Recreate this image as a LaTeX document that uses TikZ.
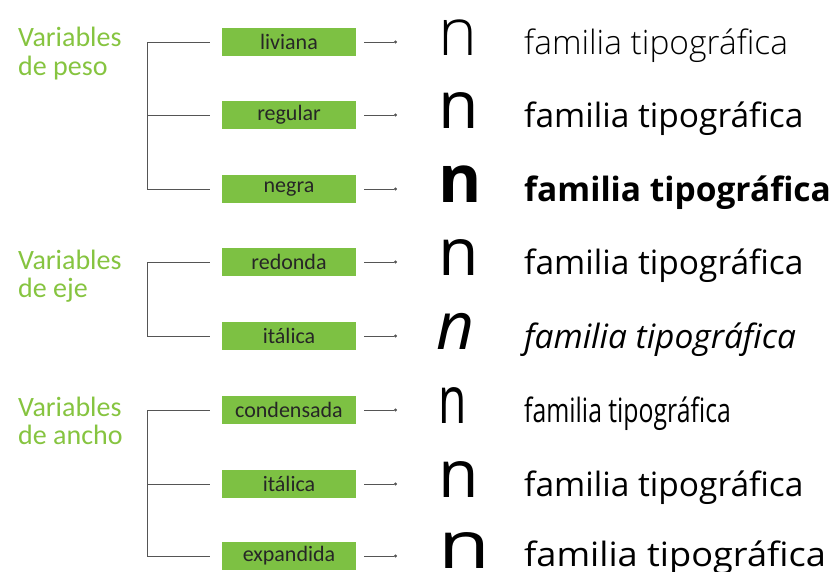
\documentclass[tikz,border=0pt]{standalone}
\usepackage{fontspec}
\setmainfont{Open Sans}
\newfontfamily\fLight{Open Sans Light}
\newfontfamily\fCal{Carlito}
\newfontfamily\fCond{Open Sans}[FakeStretch=0.74]
\newfontfamily\fExp{Open Sans}[FakeStretch=1.08]
\newfontfamily\fNCond{Open Sans}[FakeStretch=0.7]
\newfontfamily\fNExp{Open Sans}[FakeStretch=1.28]
\usetikzlibrary{arrows.meta}
\definecolor{boxgreen}{HTML}{7DC143}
\definecolor{titlegreen}{HTML}{86C440}
\definecolor{linegray}{HTML}{555555}
\tikzset{
  labelbox/.style={fill=boxgreen, minimum width=134pt, minimum height=28pt, inner sep=0pt,
    font=\fCal\fontsize{22}{22}\selectfont, text=black!85},
  grtitle/.style={anchor=base west, inner sep=0pt, text=titlegreen, font=\fCal\fontsize{28}{28}\selectfont},
  glyph/.style={anchor=base west, inner sep=0pt, font=\fontsize{66}{66}\selectfont},
  sample/.style={anchor=base west, inner sep=0pt, font=\fontsize{33.5}{33.5}\selectfont},
  conn/.style={draw=linegray, line width=0.9pt},
  arr/.style={conn, -{Circle[length=3pt]}}
}
\begin{document}
\begin{tikzpicture}[x=1pt,y=-1pt]
\useasboundingbox (0,0) rectangle (835,571);
% titles
\node[grtitle] (t1a) at (18,46) {Variables};
\node[grtitle] (t1b) at (18,75) {de peso};
\node[grtitle] (t2a) at (18,269) {Variables};
\node[grtitle] (t2b) at (18,297) {de eje};
\node[grtitle] (t3a) at (18,416) {Variables};
\node[grtitle] (t3b) at (18,444) {de ancho};
% boxes
\node[labelbox] (b1) at (289,42) {liviana};
\node[labelbox] (b2) at (289,115) {regular};
\node[labelbox] (b3) at (289,189) {negra};
\node[labelbox] (b4) at (289,262) {redonda};
\node[labelbox] (b5) at (289,336) {itálica};
\node[labelbox] (b6) at (289,410) {condensada};
\node[labelbox] (b7) at (289,484) {itálica};
\node[labelbox] (b8) at (289,556) {expandida};
% bracket corners
\coordinate (k1) at (147,42);
\coordinate (k3) at (147,189);
\coordinate (k4) at (147,262);
\coordinate (k5) at (147,336);
\coordinate (k6) at (147,410);
\coordinate (k8) at (147,556);
\draw[conn] ([xshift=-12pt]b1.west) -- (k1) -- (k3) -- ([xshift=-12pt]b3.west);
\draw[conn] ([xshift=-12pt]b2.west) -- ([xshift=-75pt]b2.west);
\draw[conn] ([xshift=-12pt]b4.west) -- (k4) -- (k5) -- ([xshift=-12pt]b5.west);
\draw[conn] ([xshift=-12pt]b6.west) -- (k6) -- (k8) -- ([xshift=-12pt]b8.west);
\draw[conn] ([xshift=-12pt]b7.west) -- ([xshift=-75pt]b7.west);
% arrows
\foreach \i/\y in {1/42,2/115,3/189,4/262,5/336,6/410,7/484,8/556}{
  \coordinate (e\i) at (397,\y);
  \draw[arr] ([xshift=8pt]b\i.east) -- (e\i);
}
% glyphs
\node[glyph, font=\fLight\fontsize{66}{66}\selectfont] (g1) at (438,55) {n};
\node[glyph] (g2) at (438,128) {n};
\node[glyph, font=\bfseries\fontsize{66}{66}\selectfont] (g3) at (438,202) {n};
\node[glyph] (g4) at (438,275) {n};
\node[glyph, font=\itshape\fontsize{66}{66}\selectfont] (g5) at (436,349) {n};
\node[glyph, font=\fNCond\fontsize{66}{66}\selectfont] (g6) at (438,423) {n};
\node[glyph] (g7) at (438,497) {n};
\node[glyph, font=\fNExp\fontsize{66}{66}\selectfont] (g8) at (438,568) {n};
% samples
\node[sample, font=\fLight\fontsize{33.5}{33.5}\selectfont] (s1) at (524,54) {familia tipográfica};
\node[sample] (s2) at (524,127) {familia tipográfica};
\node[sample, font=\bfseries\fontsize{33.5}{33.5}\selectfont] (s3) at (524,201) {familia tipográfica};
\node[sample] (s4) at (524,274) {familia tipográfica};
\node[sample, font=\itshape\fontsize{33.5}{33.5}\selectfont] (s5) at (524,348) {familia tipográfica};
\node[sample, font=\fCond\fontsize{33.5}{33.5}\selectfont] (s6) at (524,422) {familia tipográfica};
\node[sample] (s7) at (524,496) {familia tipográfica};
\node[sample, font=\fExp\fontsize{33.5}{33.5}\selectfont] (s8) at (524,566) {familia tipográfica};
\end{tikzpicture}
\end{document}
